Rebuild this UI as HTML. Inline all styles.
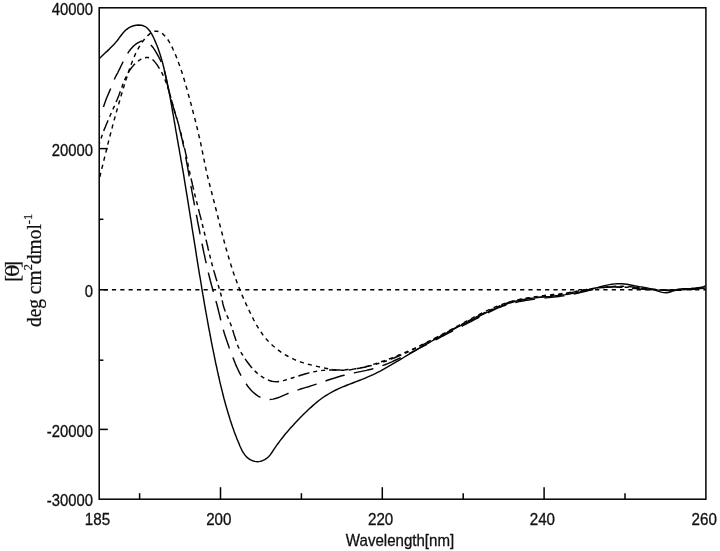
<!DOCTYPE html>
<html lang="en"><head><meta charset="utf-8"><title>CD spectra</title>
<style>html,body{margin:0;padding:0;background:#fff}body{width:720px;height:551px;overflow:hidden}svg{display:block}.t{font-family:"Liberation Sans",sans-serif;font-size:15.7px;fill:#111;stroke:#111;stroke-width:.3px}.s{font-family:"Liberation Serif",serif;font-size:20.5px;fill:#111;stroke:#111;stroke-width:.25px}.th{font-family:"DejaVu Serif","Liberation Serif",serif;font-size:18px}</style></head><body>
<svg width="720" height="551" viewBox="0 0 720 551">
<rect width="720" height="551" fill="#fff"/>
<g fill="none" stroke="#000" stroke-width="1.5" stroke-linecap="butt">
<rect x="99.2" y="7.8" width="606.7" height="491.4"/>
<path d="M99.2,148.6 h8.6"/>
<path d="M99.2,289.8 h8.6"/>
<path d="M99.2,429.4 h8.6"/>
<path d="M99.2,219.3 h4.2"/>
<path d="M99.2,360.2 h4.2"/>
<path d="M220.5,499.2 v-12"/>
<path d="M382.3,499.2 v-12"/>
<path d="M544.1,499.2 v-12"/>
<path d="M139.6,499.2 v-6"/>
<path d="M301.4,499.2 v-6"/>
<path d="M463.2,499.2 v-6"/>
<path d="M625.0,499.2 v-6"/>
<path d="M103.6,289.8 H705.9" stroke-dasharray="4.2 4.13"/>
</g>
<g fill="none" stroke="#050505" stroke-width="1.45" stroke-linejoin="round">
<path d="M99.4,58.5 L101.2,56.8 L103.0,55.0 L104.8,53.3 L106.7,51.6 L108.5,49.9 L110.3,48.1 L112.1,46.3 L113.9,44.5 L115.5,42.6 L117.1,40.7 L118.7,38.7 L120.1,36.7 L121.6,34.7 L123.2,32.7 L124.8,30.9 L126.7,29.3 L128.7,27.8 L131.0,26.7 L133.5,25.8 L136.1,25.2 L138.7,25.0 L141.2,25.2 L143.5,25.8 L145.6,26.8 L147.4,28.2 L149.0,30.0 L150.5,32.0 L151.8,34.2 L153.0,36.5 L154.1,38.8 L155.1,41.1 L156.1,43.5 L157.1,45.8 L158.0,48.2 L158.8,50.5 L159.6,52.9 L160.4,55.3 L161.1,57.7 L161.8,60.1 L162.5,62.5 L163.1,64.9 L163.7,67.3 L164.3,69.8 L164.9,72.2 L165.4,74.6 L166.0,77.1 L166.5,79.5 L167.0,82.0 L167.5,84.4 L168.0,86.9 L168.5,89.3 L169.0,91.8 L169.5,94.3 L170.0,96.7 L170.4,99.2 L170.9,101.7 L171.3,104.2 L171.8,106.6 L172.2,109.1 L172.6,111.6 L173.1,114.1 L173.5,116.5 L173.9,119.0 L174.3,121.5 L174.8,124.0 L175.2,126.5 L175.6,128.9 L176.0,131.4 L176.5,133.9 L176.9,136.4 L177.3,138.8 L177.8,141.3 L178.2,143.8 L178.6,146.3 L179.1,148.7 L179.5,151.2 L179.9,153.7 L180.4,156.1 L180.8,158.6 L181.2,161.1 L181.7,163.5 L182.1,166.0 L182.5,168.5 L183.0,171.0 L183.4,173.4 L183.8,175.9 L184.2,178.4 L184.6,180.8 L185.0,183.3 L185.4,185.8 L185.8,188.3 L186.2,190.8 L186.6,193.2 L187.0,195.7 L187.4,198.2 L187.8,200.7 L188.2,203.2 L188.6,205.6 L189.0,208.1 L189.4,210.6 L189.8,213.1 L190.2,215.6 L190.6,218.1 L191.0,220.5 L191.4,223.0 L191.7,225.5 L192.1,228.0 L192.5,230.5 L192.9,232.9 L193.3,235.4 L193.7,237.9 L194.1,240.4 L194.5,242.9 L194.9,245.3 L195.3,247.8 L195.7,250.3 L196.1,252.8 L196.4,255.3 L196.8,257.7 L197.2,260.2 L197.6,262.7 L198.0,265.2 L198.4,267.7 L198.8,270.1 L199.2,272.6 L199.6,275.1 L200.1,277.6 L200.5,280.0 L200.9,282.5 L201.3,285.0 L201.7,287.5 L202.1,290.0 L202.5,292.4 L202.9,294.9 L203.4,297.4 L203.8,299.9 L204.2,302.3 L204.6,304.8 L205.1,307.3 L205.5,309.8 L205.9,312.2 L206.4,314.7 L206.8,317.2 L207.3,319.7 L207.7,322.1 L208.2,324.6 L208.6,327.1 L209.1,329.5 L209.6,332.0 L210.0,334.5 L210.5,336.9 L211.0,339.4 L211.4,341.9 L211.9,344.3 L212.4,346.8 L212.9,349.3 L213.4,351.7 L213.9,354.2 L214.4,356.7 L214.9,359.1 L215.4,361.6 L215.9,364.0 L216.5,366.5 L217.0,368.9 L217.5,371.4 L218.1,373.8 L218.6,376.3 L219.2,378.7 L219.7,381.2 L220.3,383.6 L220.9,386.1 L221.5,388.5 L222.1,390.9 L222.7,393.4 L223.3,395.8 L223.9,398.2 L224.6,400.7 L225.2,403.1 L225.9,405.5 L226.6,407.9 L227.3,410.3 L228.0,412.7 L228.7,415.1 L229.5,417.5 L230.2,419.9 L231.0,422.3 L231.8,424.7 L232.6,427.1 L233.5,429.5 L234.3,431.9 L235.2,434.2 L236.1,436.6 L237.0,438.9 L238.0,441.3 L239.0,443.6 L239.9,446.0 L241.0,448.3 L242.1,450.6 L243.3,452.7 L244.7,454.7 L246.3,456.6 L248.0,458.2 L250.1,459.6 L252.4,460.7 L254.9,461.4 L257.5,461.7 L260.0,461.4 L262.5,460.7 L264.8,459.7 L266.9,458.2 L268.8,456.5 L270.4,454.6 L271.9,452.5 L273.2,450.4 L274.6,448.3 L276.1,446.2 L277.5,444.2 L279.0,442.2 L280.5,440.1 L282.0,438.2 L283.6,436.2 L285.1,434.3 L286.7,432.4 L288.4,430.5 L290.0,428.6 L291.7,426.7 L293.4,424.9 L295.1,423.0 L296.8,421.2 L298.5,419.4 L300.3,417.6 L302.1,415.8 L303.8,414.0 L305.7,412.3 L307.5,410.5 L309.3,408.8 L311.2,407.1 L313.1,405.4 L315.0,403.7 L316.9,402.1 L318.9,400.5 L320.9,399.0 L322.9,397.5 L325.0,396.1 L327.1,394.8 L329.3,393.5 L331.4,392.3 L333.6,391.1 L335.9,390.0 L338.2,388.9 L340.4,387.9 L342.7,386.9 L345.1,386.0 L347.4,385.0 L349.7,384.1 L352.1,383.2 L354.5,382.3 L356.8,381.4 L359.2,380.5 L361.5,379.6 L363.9,378.6 L366.2,377.7 L368.5,376.7 L370.8,375.7 L373.1,374.6 L375.3,373.6 L377.5,372.4 L379.8,371.3 L382.0,370.1 L384.2,368.9 L386.3,367.7 L388.5,366.4 L390.7,365.2 L392.8,363.9 L395.0,362.6 L397.1,361.3 L399.3,360.1 L401.4,358.8 L403.6,357.5 L405.8,356.2 L407.9,354.9 L410.1,353.6 L412.3,352.4 L414.4,351.1 L416.6,349.8 L418.8,348.5 L420.9,347.3 L423.1,346.0 L425.3,344.8 L427.5,343.5 L429.7,342.3 L431.9,341.0 L434.0,339.8 L436.2,338.6 L438.4,337.4 L440.6,336.2 L442.8,335.0 L445.0,333.8 L447.3,332.6 L449.5,331.4 L451.7,330.2 L453.9,329.1 L456.1,327.9 L458.4,326.7 L460.6,325.6 L462.8,324.4 L465.0,323.3 L467.3,322.1 L469.5,321.0 L471.8,319.9 L474.0,318.7 L476.3,317.6 L478.5,316.5 L480.8,315.4 L483.0,314.3 L485.3,313.2 L487.6,312.1 L489.9,311.0 L492.1,310.0 L494.4,308.9 L496.7,307.9 L499.1,306.9 L501.4,306.0 L503.7,305.1 L506.1,304.2 L508.4,303.4 L510.8,302.7 L513.2,302.0 L515.6,301.3 L518.0,300.7 L520.5,300.2 L522.9,299.7 L525.4,299.2 L527.9,298.8 L530.4,298.5 L532.9,298.1 L535.4,297.9 L537.9,297.6 L540.4,297.3 L542.9,297.1 L545.4,296.8 L548.0,296.6 L550.5,296.4 L553.0,296.1 L555.5,295.8 L558.0,295.6 L560.5,295.3 L563.0,294.9 L565.5,294.6 L567.9,294.2 L570.4,293.8 L572.9,293.3 L575.3,292.9 L577.8,292.4 L580.2,291.9 L582.6,291.3 L585.1,290.8 L587.5,290.2 L590.0,289.6 L592.4,288.9 L594.8,288.3 L597.3,287.6 L599.7,286.9 L602.2,286.3 L604.6,285.6 L607.1,285.1 L609.6,284.6 L612.0,284.2 L614.5,283.9 L617.0,283.7 L619.4,283.7 L621.9,283.8 L624.4,284.0 L626.9,284.3 L629.4,284.7 L631.9,285.2 L634.4,285.7 L636.9,286.1 L639.3,286.6 L641.8,287.0 L644.3,287.4 L646.7,287.9 L649.1,288.4 L651.6,289.0 L654.0,289.7 L656.4,290.5 L658.8,291.4 L661.2,292.1 L663.6,292.6 L666.0,292.8 L668.4,292.5 L670.8,291.7 L673.2,290.8 L675.7,289.9 L678.1,289.3 L680.6,288.9 L683.1,288.7 L685.6,288.7 L688.1,288.7 L690.6,288.7 L693.2,288.6 L695.7,288.5 L698.1,288.2 L700.6,287.7 L703.1,286.9 L705.5,285.8"/>
<path d="M99.4,116.7 L100.6,114.5 L101.6,112.2 L102.5,109.9 L103.3,107.5 L104.1,105.1 L104.9,102.8 L105.7,100.4 L106.6,98.0 L107.6,95.7 L108.6,93.4 L109.6,91.1 L110.6,88.8 L111.6,86.5 L112.5,84.2 L113.4,81.8 L114.3,79.5 L115.3,77.3 L116.4,75.1 L117.6,73.0 L118.7,70.8 L119.8,68.6 L120.9,66.3 L122.0,64.0 L123.1,61.7 L124.2,59.4 L125.4,57.1 L126.7,54.9 L128.0,52.8 L129.5,50.7 L131.0,48.7 L132.7,46.9 L134.5,45.2 L136.5,43.6 L138.7,42.3 L140.9,41.3 L143.2,40.9 L145.4,41.1 L147.4,42.0 L149.4,43.4 L151.1,45.2 L152.8,47.2 L154.3,49.3 L155.7,51.6 L157.0,53.9 L158.3,56.1 L159.4,58.3 L160.6,60.6 L161.6,62.8 L162.5,65.1 L163.4,67.4 L164.1,69.8 L164.7,72.2 L165.3,74.6 L165.9,77.1 L166.4,79.5 L166.9,82.0 L167.4,84.5 L168.0,86.9 L168.6,89.4 L169.2,91.8 L169.8,94.2 L170.4,96.6 L171.1,99.1 L171.8,101.5 L172.4,103.9 L173.1,106.3 L173.8,108.7 L174.5,111.1 L175.2,113.5 L175.9,115.9 L176.6,118.3 L177.2,120.7 L177.9,123.1 L178.6,125.6 L179.2,128.0 L179.9,130.4 L180.5,132.8 L181.1,135.3 L181.7,137.7 L182.3,140.1 L182.8,142.6 L183.3,145.0 L183.9,147.5 L184.4,149.9 L184.8,152.4 L185.3,154.9 L185.8,157.3 L186.2,159.8 L186.7,162.3 L187.1,164.7 L187.6,167.2 L188.0,169.7 L188.5,172.1 L188.9,174.6 L189.3,177.1 L189.8,179.5 L190.2,182.0 L190.7,184.5 L191.1,186.9 L191.6,189.4 L192.0,191.9 L192.5,194.3 L193.0,196.8 L193.4,199.3 L193.9,201.7 L194.3,204.2 L194.8,206.6 L195.3,209.1 L195.7,211.6 L196.2,214.0 L196.7,216.5 L197.2,219.0 L197.6,221.4 L198.1,223.9 L198.6,226.3 L199.1,228.8 L199.6,231.3 L200.0,233.7 L200.5,236.2 L201.0,238.6 L201.5,241.1 L202.0,243.5 L202.5,246.0 L203.0,248.5 L203.5,250.9 L204.0,253.4 L204.6,255.8 L205.1,258.3 L205.6,260.7 L206.2,263.2 L206.7,265.6 L207.3,268.1 L207.9,270.5 L208.4,272.9 L209.0,275.4 L209.6,277.8 L210.2,280.2 L210.9,282.7 L211.5,285.1 L212.2,287.5 L212.8,289.9 L213.5,292.3 L214.2,294.7 L214.9,297.1 L215.5,299.5 L216.2,302.0 L216.9,304.4 L217.5,306.8 L218.1,309.2 L218.7,311.7 L219.3,314.1 L219.9,316.5 L220.5,319.0 L221.1,321.4 L221.8,323.8 L222.4,326.3 L223.1,328.7 L223.7,331.1 L224.4,333.5 L225.2,335.9 L226.0,338.2 L226.7,340.6 L227.6,343.0 L228.4,345.3 L229.2,347.7 L230.1,350.0 L231.0,352.4 L231.8,354.7 L232.7,357.1 L233.7,359.4 L234.6,361.8 L235.5,364.1 L236.5,366.4 L237.6,368.7 L238.6,370.9 L239.7,373.2 L240.9,375.4 L242.1,377.6 L243.4,379.7 L244.7,381.8 L246.2,383.9 L247.6,386.0 L249.2,388.0 L250.9,389.9 L252.6,391.7 L254.5,393.4 L256.4,394.9 L258.5,396.3 L260.7,397.4 L263.1,398.3 L265.5,399.0 L268.0,399.4 L270.5,399.4 L273.0,399.1 L275.4,398.5 L277.8,397.8 L280.2,396.9 L282.5,395.9 L284.8,394.9 L287.1,393.9 L289.4,392.9 L291.8,392.0 L294.1,391.1 L296.5,390.3 L298.9,389.6 L301.3,388.8 L303.7,388.1 L306.1,387.4 L308.5,386.7 L310.9,385.9 L313.3,385.1 L315.6,384.4 L318.0,383.5 L320.4,382.7 L322.7,381.9 L325.1,381.1 L327.5,380.3 L329.9,379.5 L332.2,378.7 L334.6,378.0 L337.0,377.2 L339.4,376.5 L341.8,375.8 L344.3,375.2 L346.7,374.6 L349.2,374.0 L351.6,373.5 L354.1,372.9 L356.5,372.4 L359.0,371.9 L361.5,371.4 L364.0,370.9 L366.4,370.4 L368.8,369.8 L371.3,369.2 L373.7,368.6 L376.1,367.9 L378.5,367.1 L380.8,366.3 L383.1,365.4 L385.5,364.5 L387.8,363.6 L390.1,362.6 L392.4,361.6 L394.6,360.5 L396.9,359.5 L399.2,358.4 L401.4,357.3 L403.7,356.2 L405.9,355.1 L408.2,354.0 L410.4,352.8 L412.7,351.7 L414.9,350.6 L417.1,349.4 L419.4,348.2 L421.6,347.1 L423.8,345.9 L426.1,344.8 L428.3,343.6 L430.5,342.4 L432.7,341.3 L435.0,340.1 L437.2,339.0 L439.4,337.8 L441.6,336.7 L443.8,335.5 L446.0,334.4 L448.3,333.2 L450.5,332.1 L452.7,330.9 L454.9,329.8 L457.1,328.7 L459.3,327.5 L461.6,326.4 L463.8,325.2 L466.0,324.1 L468.2,322.9 L470.5,321.8 L472.7,320.6 L474.9,319.4 L477.2,318.3 L479.4,317.1 L481.6,315.9 L483.9,314.8 L486.2,313.6 L488.4,312.5 L490.7,311.4 L493.0,310.3 L495.3,309.2 L497.6,308.2 L499.9,307.2 L502.2,306.3 L504.6,305.5 L506.9,304.7 L509.3,304.0 L511.7,303.3 L514.1,302.7 L516.5,302.2 L519.0,301.6 L521.4,301.2 L523.9,300.7 L526.3,300.3 L528.8,300.0 L531.3,299.6 L533.7,299.3 L536.2,299.0 L538.7,298.7 L541.2,298.4 L543.7,298.1 L546.2,297.9 L548.7,297.6 L551.2,297.3 L553.7,297.1 L556.2,296.8 L558.7,296.5 L561.2,296.1 L563.7,295.8 L566.2,295.4 L568.7,295.0 L571.2,294.5 L573.6,294.0 L576.1,293.5 L578.6,293.0 L581.0,292.4 L583.5,291.8 L585.9,291.2 L588.3,290.6 L590.8,290.0 L593.2,289.5 L595.7,288.9 L598.1,288.5 L600.6,288.0 L603.0,287.7 L605.5,287.4 L607.9,287.2 L610.4,287.0 L612.9,287.0 L615.4,287.0 L617.9,287.1 L620.4,287.2 L622.9,287.3 L625.4,287.5 L627.9,287.7 L630.4,288.0 L633.0,288.2 L635.5,288.5 L638.0,288.7 L640.5,289.0 L643.0,289.2 L645.5,289.4 L648.0,289.6 L650.5,289.8 L653.0,289.9 L655.5,290.1 L658.0,290.2 L660.5,290.3 L663.0,290.3 L665.5,290.4 L668.0,290.4 L670.5,290.4 L673.0,290.4 L675.5,290.4 L678.0,290.3 L680.5,290.2 L683.0,290.1 L685.5,290.0 L688.0,289.8 L690.5,289.7 L693.0,289.4 L695.5,289.2 L698.0,288.9 L700.5,288.6 L703.0,288.3 L705.5,288.0" stroke-dasharray="20 9.5" stroke-dashoffset="-10.5"/>
<path d="M99.5,143.3 L100.2,140.9 L101.0,138.5 L101.8,136.2 L102.6,133.8 L103.5,131.5 L104.4,129.1 L105.4,126.8 L106.3,124.5 L107.3,122.2 L108.3,119.9 L109.3,117.6 L110.3,115.3 L111.3,113.0 L112.3,110.7 L113.3,108.4 L114.4,106.1 L115.4,103.8 L116.3,101.5 L117.3,99.2 L118.2,96.9 L119.2,94.5 L120.0,92.2 L120.9,89.8 L121.8,87.5 L122.6,85.1 L123.5,82.8 L124.4,80.5 L125.4,78.2 L126.5,75.9 L127.6,73.7 L128.8,71.6 L130.2,69.5 L131.7,67.5 L133.3,65.6 L135.1,63.7 L137.1,62.0 L139.1,60.4 L141.3,59.0 L143.6,58.0 L145.9,57.5 L148.1,57.5 L150.3,58.1 L152.3,59.3 L154.1,61.1 L155.8,63.1 L157.3,65.2 L158.7,67.4 L160.0,69.5 L161.3,71.7 L162.4,73.9 L163.5,76.2 L164.5,78.4 L165.4,80.7 L166.3,83.0 L167.1,85.4 L167.9,87.8 L168.7,90.1 L169.4,92.5 L170.1,95.0 L170.8,97.4 L171.4,99.8 L172.1,102.2 L172.8,104.7 L173.5,107.1 L174.1,109.5 L174.8,111.9 L175.5,114.3 L176.3,116.7 L177.0,119.1 L177.7,121.5 L178.4,123.9 L179.0,126.3 L179.7,128.7 L180.4,131.1 L181.0,133.6 L181.6,136.0 L182.2,138.4 L182.8,140.8 L183.4,143.3 L184.0,145.7 L184.5,148.2 L185.1,150.6 L185.6,153.1 L186.2,155.5 L186.7,157.9 L187.2,160.4 L187.7,162.9 L188.2,165.3 L188.8,167.8 L189.3,170.2 L189.8,172.7 L190.3,175.1 L190.9,177.6 L191.4,180.0 L192.0,182.5 L192.5,184.9 L193.1,187.3 L193.7,189.8 L194.2,192.2 L194.8,194.6 L195.4,197.1 L196.0,199.5 L196.7,201.9 L197.3,204.4 L197.9,206.8 L198.5,209.2 L199.1,211.7 L199.7,214.1 L200.4,216.5 L201.0,218.9 L201.6,221.4 L202.2,223.8 L202.8,226.2 L203.4,228.7 L204.0,231.1 L204.6,233.5 L205.2,236.0 L205.7,238.4 L206.3,240.8 L206.9,243.3 L207.5,245.7 L208.0,248.2 L208.6,250.6 L209.2,253.0 L209.8,255.5 L210.4,257.9 L211.0,260.3 L211.6,262.8 L212.3,265.2 L212.9,267.6 L213.6,270.0 L214.3,272.4 L215.0,274.8 L215.7,277.2 L216.4,279.6 L217.2,282.0 L217.9,284.4 L218.7,286.8 L219.4,289.2 L220.1,291.6 L220.8,294.0 L221.4,296.5 L221.9,298.9 L222.4,301.4 L222.9,303.9 L223.5,306.3 L224.3,308.7 L225.1,311.0 L226.0,313.3 L227.0,315.6 L228.0,317.9 L229.0,320.2 L230.0,322.5 L230.9,324.8 L231.7,327.2 L232.5,329.6 L233.3,332.0 L234.0,334.4 L234.8,336.8 L235.5,339.1 L236.3,341.5 L237.1,343.9 L238.0,346.2 L239.0,348.4 L240.1,350.7 L241.3,352.9 L242.6,355.0 L243.9,357.2 L245.3,359.2 L246.8,361.3 L248.3,363.3 L249.8,365.3 L251.4,367.2 L253.1,369.1 L254.8,370.9 L256.6,372.6 L258.5,374.3 L260.5,375.8 L262.6,377.2 L264.7,378.4 L267.0,379.5 L269.4,380.5 L271.8,381.2 L274.3,381.6 L276.8,381.7 L279.2,381.5 L281.7,381.0 L284.1,380.4 L286.5,379.7 L288.9,379.0 L291.3,378.3 L293.7,377.5 L296.1,376.7 L298.5,376.0 L300.9,375.2 L303.3,374.5 L305.7,373.8 L308.2,373.1 L310.6,372.5 L313.0,371.9 L315.5,371.5 L317.9,371.0 L320.4,370.7 L322.9,370.4 L325.4,370.3 L327.9,370.1 L330.4,370.0 L332.9,370.0 L335.5,369.9 L338.0,369.9 L340.5,369.9 L343.1,369.8 L345.6,369.7 L348.1,369.5 L350.6,369.3 L353.1,369.1 L355.6,368.7 L358.0,368.4 L360.5,368.0 L362.9,367.5 L365.4,367.0 L367.8,366.4 L370.2,365.8 L372.6,365.2 L375.0,364.5 L377.4,363.8 L379.8,363.1 L382.2,362.3 L384.6,361.5 L386.9,360.7 L389.3,359.8 L391.6,358.9 L394.0,358.0 L396.3,357.0 L398.6,356.1 L400.9,355.1 L403.2,354.1 L405.5,353.0 L407.8,352.0 L410.1,350.9 L412.4,349.9 L414.6,348.8 L416.9,347.7 L419.2,346.6 L421.4,345.5 L423.7,344.3 L425.9,343.2 L428.1,342.1 L430.4,340.9 L432.6,339.8 L434.8,338.6 L437.0,337.5 L439.3,336.3 L441.5,335.1 L443.7,334.0 L445.9,332.8 L448.1,331.6 L450.3,330.5 L452.5,329.3 L454.8,328.1 L457.0,326.9 L459.2,325.8 L461.4,324.6 L463.6,323.4 L465.8,322.3 L468.0,321.1 L470.3,320.0 L472.5,318.8 L474.7,317.7 L477.0,316.6 L479.2,315.4 L481.5,314.3 L483.7,313.2 L486.0,312.1 L488.2,311.0 L490.5,309.9 L492.8,308.9 L495.1,307.8 L497.4,306.8 L499.7,305.8 L502.0,304.9 L504.3,304.0 L506.7,303.1 L509.0,302.3 L511.4,301.6 L513.8,300.9 L516.3,300.3 L518.7,299.8 L521.2,299.3 L523.7,299.0 L526.2,298.6 L528.7,298.3 L531.2,298.0 L533.7,297.7 L536.2,297.4 L538.7,297.1 L541.2,296.9 L543.6,296.6 L546.1,296.3 L548.6,296.0 L551.1,295.7 L553.6,295.3 L556.0,295.0 L558.5,294.6 L561.0,294.3 L563.5,293.9 L565.9,293.4 L568.4,293.0 L570.9,292.6 L573.4,292.1 L575.8,291.6 L578.3,291.2 L580.8,290.7 L583.2,290.3 L585.7,289.8 L588.2,289.4 L590.7,289.0 L593.1,288.6 L595.6,288.2 L598.1,287.8 L600.6,287.5 L603.1,287.2 L605.5,286.9 L608.0,286.7 L610.5,286.5 L613.0,286.4 L615.5,286.3 L618.0,286.2 L620.5,286.2 L623.0,286.3 L625.4,286.4 L627.9,286.5 L630.4,286.7 L632.9,286.9 L635.4,287.1 L637.9,287.4 L640.4,287.7 L643.0,288.0 L645.5,288.3 L648.0,288.5 L650.5,288.8 L653.0,289.1 L655.5,289.3 L658.0,289.6 L660.5,289.8 L663.0,289.9 L665.5,290.0 L668.0,290.1 L670.5,290.1 L673.0,290.1 L675.5,290.0 L678.0,289.8 L680.5,289.6 L683.0,289.3 L685.5,289.1 L688.0,288.8 L690.5,288.5 L693.0,288.2 L695.5,288.0 L698.0,287.7 L700.5,287.5 L703.0,287.3 L705.5,287.2" stroke-dasharray="11.5 4 4 4 4 4" stroke-dashoffset="-13"/>
<path d="M99.4,178.9 L100.0,176.4 L100.5,174.0 L101.1,171.6 L101.7,169.1 L102.3,166.7 L102.9,164.3 L103.5,161.8 L104.1,159.4 L104.7,157.0 L105.3,154.5 L105.9,152.1 L106.5,149.7 L107.1,147.2 L107.7,144.8 L108.3,142.4 L108.9,139.9 L109.5,137.5 L110.2,135.1 L110.8,132.7 L111.4,130.2 L112.1,127.8 L112.7,125.4 L113.4,123.0 L114.0,120.5 L114.7,118.1 L115.3,115.7 L116.0,113.3 L116.7,110.9 L117.4,108.5 L118.1,106.0 L118.8,103.6 L119.5,101.2 L120.2,98.8 L120.9,96.4 L121.6,94.0 L122.3,91.6 L123.1,89.2 L123.8,86.8 L124.5,84.4 L125.3,82.0 L126.1,79.6 L126.8,77.3 L127.6,74.9 L128.4,72.5 L129.2,70.1 L130.0,67.7 L130.8,65.4 L131.7,63.0 L132.6,60.7 L133.5,58.4 L134.5,56.1 L135.5,53.8 L136.6,51.5 L137.8,49.3 L139.0,47.1 L140.3,45.0 L141.7,42.9 L143.2,40.8 L144.8,38.8 L146.5,36.9 L148.3,35.1 L150.3,33.4 L152.4,32.1 L154.7,31.3 L157.0,31.2 L159.3,31.7 L161.5,32.8 L163.4,34.4 L165.2,36.3 L166.8,38.3 L168.3,40.3 L169.6,42.5 L170.8,44.7 L172.0,46.9 L173.0,49.2 L174.1,51.5 L175.1,53.8 L176.0,56.1 L177.0,58.5 L177.9,60.8 L178.7,63.2 L179.6,65.5 L180.4,67.9 L181.2,70.2 L182.0,72.6 L182.8,75.0 L183.5,77.4 L184.2,79.8 L184.9,82.2 L185.6,84.6 L186.3,87.0 L187.0,89.4 L187.7,91.8 L188.3,94.3 L189.0,96.7 L189.7,99.1 L190.3,101.5 L191.0,103.9 L191.6,106.4 L192.3,108.8 L192.9,111.2 L193.5,113.6 L194.2,116.1 L194.8,118.5 L195.4,120.9 L196.0,123.4 L196.6,125.8 L197.2,128.2 L197.8,130.7 L198.4,133.1 L198.9,135.5 L199.5,138.0 L200.0,140.4 L200.6,142.9 L201.1,145.3 L201.6,147.8 L202.1,150.2 L202.6,152.7 L203.1,155.2 L203.6,157.6 L204.1,160.1 L204.6,162.5 L205.1,165.0 L205.6,167.4 L206.1,169.9 L206.7,172.3 L207.2,174.8 L207.8,177.2 L208.4,179.6 L209.0,182.1 L209.6,184.5 L210.2,186.9 L210.9,189.4 L211.5,191.8 L212.1,194.2 L212.8,196.6 L213.4,199.1 L214.0,201.5 L214.6,203.9 L215.2,206.3 L215.8,208.8 L216.5,211.2 L217.1,213.6 L217.7,216.0 L218.3,218.5 L218.9,220.9 L219.5,223.3 L220.1,225.8 L220.7,228.2 L221.3,230.6 L222.0,233.0 L222.6,235.5 L223.2,237.9 L223.9,240.3 L224.5,242.8 L225.2,245.2 L225.8,247.6 L226.5,250.0 L227.2,252.5 L227.9,254.9 L228.6,257.3 L229.3,259.7 L230.1,262.1 L230.8,264.5 L231.6,266.9 L232.3,269.3 L233.1,271.7 L233.9,274.0 L234.8,276.4 L235.6,278.8 L236.5,281.1 L237.3,283.5 L238.2,285.8 L239.2,288.1 L240.1,290.4 L241.0,292.7 L242.0,295.0 L243.0,297.3 L244.0,299.6 L245.1,301.8 L246.1,304.1 L247.2,306.4 L248.2,308.6 L249.3,310.9 L250.4,313.2 L251.5,315.4 L252.7,317.7 L253.8,320.0 L255.0,322.2 L256.2,324.4 L257.5,326.6 L258.8,328.8 L260.1,330.9 L261.6,332.9 L263.0,335.0 L264.6,337.0 L266.2,338.9 L267.8,340.7 L269.5,342.5 L271.3,344.3 L273.2,346.0 L275.1,347.6 L277.0,349.1 L279.0,350.6 L281.0,352.1 L283.1,353.5 L285.3,354.8 L287.4,356.0 L289.6,357.2 L291.9,358.3 L294.1,359.4 L296.4,360.4 L298.8,361.3 L301.1,362.1 L303.5,362.9 L305.9,363.6 L308.3,364.3 L310.8,364.9 L313.2,365.5 L315.7,366.1 L318.1,366.6 L320.6,367.1 L323.1,367.7 L325.5,368.2 L328.0,368.7 L330.5,369.2 L332.9,369.6 L335.4,370.0 L337.9,370.2 L340.4,370.3 L342.8,370.3 L345.3,370.2 L347.8,370.0 L350.3,369.8 L352.8,369.4 L355.2,369.0 L357.7,368.5 L360.2,368.0 L362.6,367.4 L365.1,366.7 L367.5,366.1 L369.9,365.4 L372.4,364.6 L374.8,363.9 L377.2,363.1 L379.6,362.3 L381.9,361.5 L384.3,360.7 L386.7,359.8 L389.0,359.0 L391.4,358.1 L393.7,357.2 L396.0,356.3 L398.3,355.3 L400.6,354.4 L402.9,353.4 L405.2,352.4 L407.5,351.4 L409.8,350.4 L412.1,349.3 L414.4,348.3 L416.6,347.2 L418.9,346.2 L421.1,345.1 L423.4,344.0 L425.6,342.9 L427.9,341.7 L430.1,340.6 L432.4,339.5 L434.6,338.3 L436.8,337.2 L439.0,336.0 L441.3,334.9 L443.5,333.7 L445.7,332.5 L447.9,331.3 L450.1,330.1 L452.3,328.9 L454.6,327.7 L456.8,326.5 L459.0,325.3 L461.2,324.1 L463.4,322.9 L465.6,321.7 L467.8,320.5 L470.0,319.3 L472.3,318.1 L474.5,316.9 L476.7,315.8 L479.0,314.6 L481.2,313.5 L483.4,312.3 L485.7,311.2 L488.0,310.2 L490.2,309.1 L492.5,308.1 L494.8,307.1 L497.1,306.2 L499.5,305.3 L501.8,304.5 L504.2,303.6 L506.6,302.9 L508.9,302.2 L511.3,301.5 L513.8,300.8 L516.2,300.3 L518.6,299.7 L521.1,299.2 L523.5,298.7 L526.0,298.2 L528.5,297.8 L530.9,297.4 L533.4,297.0 L535.9,296.6 L538.4,296.3 L540.9,295.9 L543.4,295.6 L545.9,295.3 L548.4,295.1 L550.9,294.8 L553.4,294.5 L555.9,294.2 L558.4,293.9 L560.8,293.7 L563.3,293.3 L565.8,293.0 L568.3,292.7 L570.8,292.3 L573.2,291.9 L575.7,291.4 L578.2,291.0 L580.6,290.5 L583.1,290.0 L585.6,289.6 L588.0,289.2 L590.5,288.8 L593.0,288.4 L595.5,288.1 L598.0,287.8 L600.5,287.6 L603.0,287.4 L605.5,287.2 L608.0,287.1 L610.5,287.0 L613.0,286.9 L615.5,286.9 L618.0,286.9 L620.5,287.0 L623.0,287.0 L625.5,287.2 L628.0,287.3 L630.5,287.5 L633.0,287.7 L635.5,287.9 L638.0,288.2 L640.5,288.4 L643.0,288.6 L645.4,288.9 L647.9,289.1 L650.4,289.4 L652.9,289.6 L655.4,289.8 L657.9,290.0 L660.4,290.1 L662.9,290.2 L665.5,290.3 L668.0,290.4 L670.5,290.4 L673.0,290.4 L675.5,290.3 L678.0,290.2 L680.5,290.0 L683.0,289.8 L685.5,289.6 L688.0,289.4 L690.5,289.1 L693.0,288.9 L695.5,288.6 L698.0,288.4 L700.5,288.1 L703.0,287.9 L705.5,287.7" stroke-dasharray="4.2 4.13" stroke-dashoffset="-2"/>
</g>
<text class="t" transform="translate(92.9,15.1) scale(0.945,1)" text-anchor="end">40000</text>
<text class="t" transform="translate(92.9,155.7) scale(0.945,1)" text-anchor="end">20000</text>
<text class="t" transform="translate(92.9,296.9) scale(0.945,1)" text-anchor="end">0</text>
<text class="t" transform="translate(92.9,436.5) scale(0.945,1)" text-anchor="end">-20000</text>
<text class="t" transform="translate(92.9,506.4) scale(0.945,1)" text-anchor="end">-30000</text>
<text class="t" transform="translate(97.5,525) scale(0.965,1)" text-anchor="middle">185</text>
<text class="t" transform="translate(218.8,525) scale(0.965,1)" text-anchor="middle">200</text>
<text class="t" transform="translate(380.6,525) scale(0.965,1)" text-anchor="middle">220</text>
<text class="t" transform="translate(542.4,525) scale(0.965,1)" text-anchor="middle">240</text>
<text class="t" transform="translate(704.2,525) scale(0.965,1)" text-anchor="middle">260</text>
<text class="t" transform="translate(400,546.2) scale(0.96,1)" text-anchor="middle">Wavelength[nm]</text>
<g transform="translate(19,271.2) rotate(-90)"><text class="s" x="-10.6">[</text><text class="s th" transform="translate(0.4,0) scale(1.15,1)" text-anchor="middle">θ</text><text class="s" x="10.4" text-anchor="end">]</text></g>
<text class="s" transform="translate(41.4,270.5) rotate(-90) scale(0.95,1)" text-anchor="middle">deg cm<tspan font-size="13" dy="-9.5">2</tspan><tspan dy="9.5">dmol</tspan><tspan font-size="13" dy="-9.5">-1</tspan></text>
</svg></body></html>
